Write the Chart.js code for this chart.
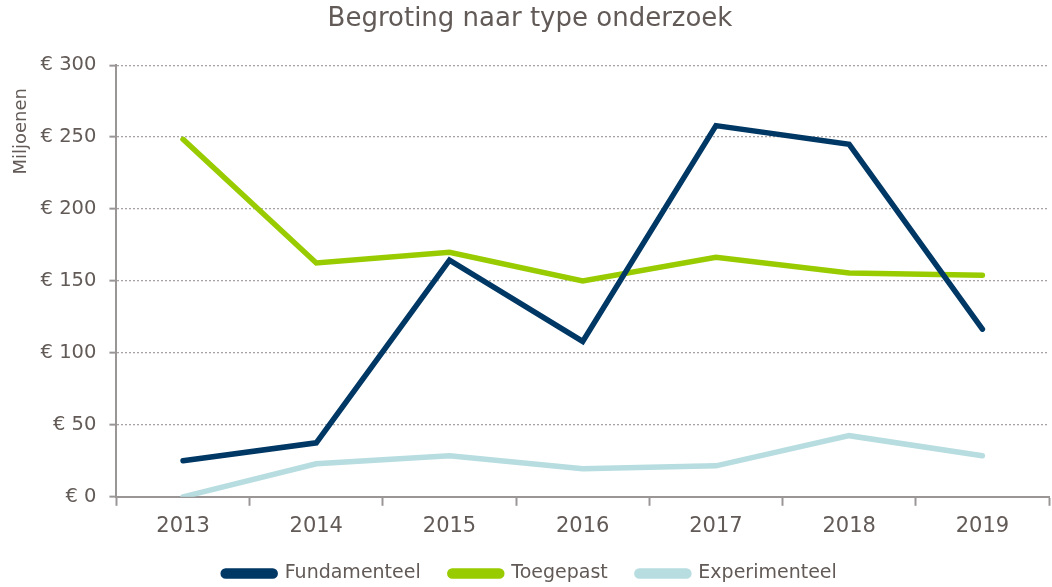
<!DOCTYPE html>
<html>
<head>
<meta charset="utf-8">
<script src="https://cdn.jsdelivr.net/npm/chart.js@4"></script>
<style>
  html, body { margin: 0; padding: 0; background: #fff; }
  #wrap { width: 1052px; height: 587px; }
</style>
</head>
<body>
<div id="wrap"><canvas id="grafiek"></canvas></div>
<script>
const jaren = ["2013", "2014", "2015", "2016", "2017", "2018", "2019"];
const fundamenteel = [25, 37.5, 164.5, 108, 258, 245, 116.5];
const toegepast = [248.5, 162.5, 170, 150, 166.5, 155.5, 154];
const experimenteel = [0, 23, 28.5, 19.5, 21.5, 42.5, 28.5];
const yTicks = [0, 50, 100, 150, 200, 250, 300];

const tekstKleur = "#625a57";
const asKleur = "#9a9696";
Chart.defaults.font.family = "'DejaVu Sans', Verdana, sans-serif";
Chart.defaults.color = tekstKleur;

function lijn(label, data, kleur) {
    return {
        label,
        data,
        borderColor: kleur,
        backgroundColor: kleur,
        borderWidth: 5.5,
        pointRadius: 0,
        borderCapStyle: "round",
        tension: 0
    };
}

new Chart(document.getElementById("grafiek"), {
    type: "line",
    data: {
        labels: jaren,
        datasets: [
            lijn("Fundamenteel", fundamenteel, "#003865"),
            lijn("Toegepast", toegepast, "#99cc00"),
            lijn("Experimenteel", experimenteel, "#b7dde0")
        ]
    },
    options: {
        responsive: true,
        maintainAspectRatio: false,
        animation: false,
        layout: { padding: { top: 4, right: 3, left: 11, bottom: -6 } },
        plugins: {
            title: {
                display: true,
                text: "Begroting naar type onderzoek",
                font: { size: 26, weight: "normal" },
                color: tekstKleur,
                padding: { top: 0, bottom: 30 }
            },
            legend: {
                position: "bottom",
                labels: {
                    boxWidth: 52,
                    boxHeight: 5,
                    useBorderRadius: true,
                    borderRadius: 2.5,
                    padding: 17,
                    font: { size: 19 },
                    color: tekstKleur,
                    generateLabels: chart => {
                        const items = Chart.defaults.plugins.legend.labels.generateLabels(chart);
                        items.forEach((it, i) => {
                            if (i < items.length - 1) it.text = it.text + "  ";
                        });
                        return items;
                    }
                }
            },
            tooltip: { enabled: false }
        },
        scales: {
            x: {
                offset: true,
                grid: {
                    display: true,
                    drawOnChartArea: false,
                    drawTicks: true,
                    offset: true,
                    tickLength: 9,
                    tickColor: asKleur,
                    tickWidth: 2
                },
                border: { color: asKleur, width: 2 },
                ticks: { font: { size: 21 }, color: tekstKleur, padding: 8 }
            },
            y: {
                min: 0,
                max: 300,
                afterBuildTicks: as => { as.ticks = yTicks.map(v => ({ value: v })); },
                grid: {
                    color: "#a8a4a4",
                    lineWidth: 1.3,
                    tickLength: 7,
                    tickColor: asKleur,
                    tickWidth: 2,
                    tickBorderDash: []
                },
                border: { color: asKleur, width: 2, dash: [2, 2] },
                ticks: {
                    font: { size: 19.5 },
                    color: tekstKleur,
                    padding: 13,
                    callback: v => "€ " + v
                },
                title: {
                    display: true,
                    text: "Miljoenen    ",
                    align: "end",
                    font: { size: 18 },
                    color: tekstKleur,
                    padding: { top: 0, bottom: -5 }
                }
            }
        }
    }
});
</script>
</body>
</html>
